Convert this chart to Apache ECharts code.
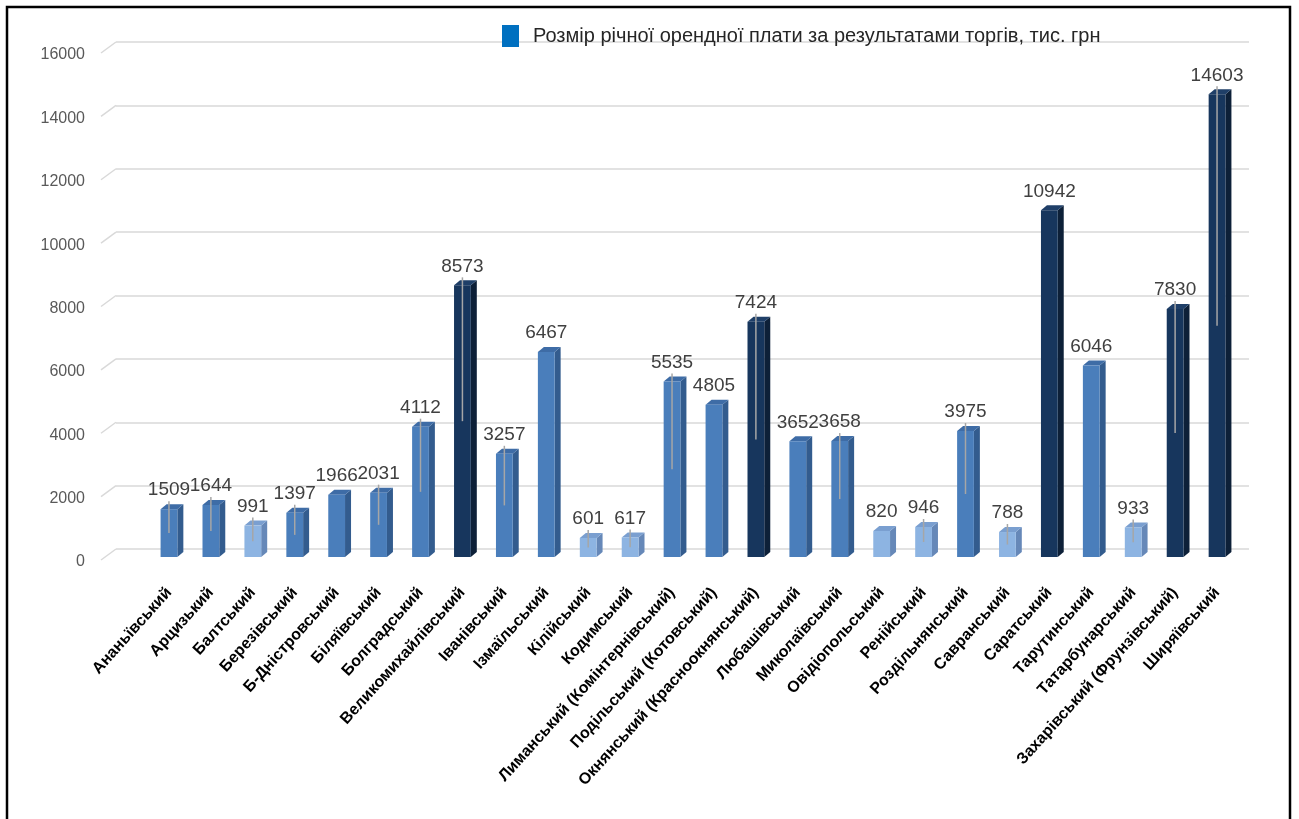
<!DOCTYPE html>
<html>
<head>
<meta charset="utf-8">
<script src="https://cdn.jsdelivr.net/npm/echarts@6/dist/echarts.min.js"></script>
<style>
  html, body { margin: 0; padding: 0; background: #ffffff; }
  #chart { width: 1299px; height: 819px; }
</style>
</head>
<body>
<div id="chart"></div>
<script>
// District names (category axis)
const districts = [
  'Ананьївський', 'Арцизький', 'Балтський', 'Березівський', 'Б-Дністровський',
  'Біляївський', 'Болградський', 'Великомихайлівський', 'Іванівський', 'Ізмаїльський',
  'Кілійський', 'Кодимський', 'Лиманський (Комінтернівський)', 'Подільський (Котовський)',
  'Окнянський (Красноокнянський)', 'Любашівський', 'Миколаївський', 'Овідіопольський',
  'Ренійський', 'Роздільнянський', 'Савранський', 'Саратський', 'Тарутинський',
  'Татарбунарський', 'Захарівський (Фрунзівський)', 'Ширяївський'
];

// Annual rent from auctions, thousand UAH
const rentValues = [
  1509, 1644, 991, 1397, 1966, 2031, 4112, 8573, 3257, 6467,
  601, 617, 5535, 4805, 7424, 3652, 3658, 820, 946, 3975,
  788, 10942, 6046, 933, 7830, 14603
];

// Value axis ticks
const valueTicks = [0, 2000, 4000, 6000, 8000, 10000, 12000, 14000, 16000];

const seriesName = 'Розмір річної орендної плати за результатами торгів, тис. грн';

const FONT = '"Liberation Sans", Arial, sans-serif';
const tickStep = valueTicks[1] - valueTicks[0];
const axisMin = valueTicks[0];
const axisMax = valueTicks[valueTicks.length - 1];

// Three shades of the 3D columns: front, side and top faces
const shades = {
  light: { front: '#8DB4E2', side: '#6688B8', top: '#7A9FD0' },
  mid:   { front: '#4A7EBB', side: '#335C8E', top: '#3E6CA6' },
  dark:  { front: '#17365D', side: '#0D2038', top: '#1F3F68' }
};
function shadeOf(v) {
  if (v < 1000) return shades.light;
  if (v > 7000) return shades.dark;
  return shades.mid;
}

// Labels that are connected to their column by a leader line
const leaderLabels = new Set([0, 1, 2, 3, 5, 6, 7, 8, 10, 11, 12, 14, 16, 18, 19, 20, 23, 24, 25]);

const DEPTH_X = 6;
const DEPTH_Y = 5;

function renderColumn(params, api) {
  const idx = api.value(0);
  const v = api.value(1);
  const top = api.coord([idx, v]);
  const base = api.coord([idx, 0]);
  const w = api.size([1, 0])[0] * 0.4;
  const x0 = top[0] - w / 2;
  const x1 = top[0] + w / 2;
  const c = shadeOf(v);
  const children = [
    {
      type: 'polygon',
      shape: { points: [[x1, top[1]], [x1 + DEPTH_X, top[1] - DEPTH_Y], [x1 + DEPTH_X, base[1] - DEPTH_Y], [x1, base[1]]] },
      style: { fill: c.side }
    },
    {
      type: 'polygon',
      shape: { points: [[x0, top[1]], [x0 + DEPTH_X, top[1] - DEPTH_Y], [x1 + DEPTH_X, top[1] - DEPTH_Y], [x1, top[1]]] },
      style: { fill: c.top }
    },
    {
      type: 'rect',
      shape: { x: x0, y: top[1], width: w, height: base[1] - top[1] },
      style: { fill: c.front }
    }
  ];
  if (leaderLabels.has(params.dataIndex)) {
    children.push({
      type: 'line',
      shape: { x1: top[0], y1: top[1] - 8, x2: top[0], y2: (top[1] + base[1]) / 2 },
      style: { stroke: '#A6A6A6', lineWidth: 1.5 }
    });
  }
  children.push({
    type: 'text',
    style: {
      text: String(v),
      x: top[0],
      y: top[1] - 19,
      align: 'center',
      verticalAlign: 'middle',
      fontSize: 19,
      fontFamily: FONT,
      fill: '#404040'
    }
  });
  return { type: 'group', children };
}

// Short slanted strokes on the left wall where each grid line starts
function renderWallTick(params, api) {
  const p = api.coord([0, api.value(1)]);
  return {
    type: 'line',
    shape: { x1: p[0] - 15, y1: p[1] + 11, x2: p[0], y2: p[1] },
    style: { stroke: '#D9D9D9', lineWidth: 1.5 }
  };
}

const chart = echarts.init(document.getElementById('chart'), null, { renderer: 'canvas' });

chart.setOption({
  animation: false,
  backgroundColor: '#ffffff',
  graphic: [{
    type: 'rect',
    shape: { x: 7, y: 7, width: 1283, height: 840 },
    style: { fill: 'none', stroke: '#000000', lineWidth: 2.5 },
    silent: true,
    z: 100
  }],
  legend: {
    data: [{ name: seriesName, icon: 'rect' }],
    left: 497,
    top: 20,
    itemWidth: 17,
    itemHeight: 22,
    selectedMode: false,
    textStyle: { fontSize: 20, color: '#262626', fontFamily: FONT, padding: [0, 0, 0, 9] }
  },
  grid: [
    // front plane: columns and value labels
    { left: 148, right: 61, top: 50, bottom: 262, containLabel: false },
    // back wall: grid lines
    { left: 116, right: 50, top: 42, bottom: 270, containLabel: false },
    // outer plane carrying the value-axis tick labels
    { left: 148, right: 61, top: 55, bottom: 257, containLabel: false }
  ],
  xAxis: [
    {
      type: 'category',
      gridIndex: 0,
      data: districts,
      boundaryGap: true,
      axisLine: { show: false },
      axisTick: { show: false },
      axisLabel: {
        interval: 0,
        rotate: 48,
        margin: 33,
        fontSize: 16,
        fontWeight: 'bold',
        fontFamily: FONT,
        color: '#000000'
      }
    },
    { type: 'value', gridIndex: 1, min: 0, max: 1, show: false },
    { type: 'value', gridIndex: 2, min: 0, max: 1, show: false }
  ],
  yAxis: [
    {
      type: 'value',
      gridIndex: 0,
      min: axisMin,
      max: axisMax,
      interval: tickStep,
      show: false
    },
    {
      type: 'value',
      gridIndex: 1,
      min: axisMin,
      max: axisMax,
      interval: tickStep,
      axisLine: { show: false },
      axisTick: { show: false },
      axisLabel: { show: false },
      splitLine: { show: true, lineStyle: { color: '#D9D9D9', width: 1.5 } }
    },
    {
      type: 'value',
      gridIndex: 2,
      min: axisMin,
      max: axisMax,
      interval: tickStep,
      axisLine: { show: false },
      axisTick: { show: false },
      splitLine: { show: false },
      axisLabel: {
        margin: 63,
        fontSize: 16,
        fontFamily: FONT,
        color: '#595959',
        formatter: v => String(v)
      }
    }
  ],
  series: [
    {
      type: 'custom',
      name: 'wall',
      xAxisIndex: 1,
      yAxisIndex: 1,
      silent: true,
      clip: false,
      z: 1,
      renderItem: renderWallTick,
      data: valueTicks.map(t => [0, t])
    },
    {
      type: 'custom',
      name: seriesName,
      xAxisIndex: 0,
      yAxisIndex: 0,
      clip: false,
      z: 5,
      itemStyle: { color: '#0070C0' },
      renderItem: renderColumn,
      encode: { x: 0, y: 1 },
      data: rentValues.map((v, i) => [i, v])
    }
  ]
});
</script>
</body>
</html>
